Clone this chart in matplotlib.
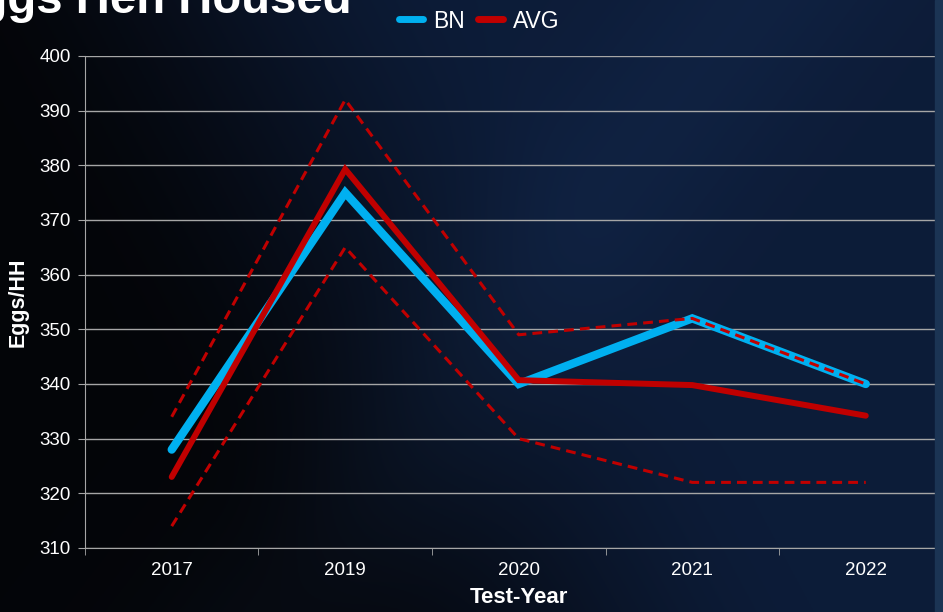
import matplotlib
matplotlib.use("Agg")
import matplotlib.pyplot as plt
import numpy as np

# data
years = ['2017', '2019', '2020', '2021', '2022']
bn = [328, 375, 340, 352, 340]
avg = [323, 379.3, 340.7, 339.8, 334.2]
upper = [334, 392, 349, 352, 340]
lower = [314, 365, 330, 322, 322]

blue = '#00b0f0'
red = '#c00000'
grid_col = '#a6a6a6'
plt.rcParams['font.family'] = ['Liberation Sans', 'DejaVu Sans']

fig = plt.figure(figsize=(9.43, 6.12), dpi=100)

# space-like background (plain gradient)
bg = fig.add_axes([0, 0, 1, 1], zorder=-10)
h, w = 306, 472
yy, xx = np.mgrid[0:h, 0:w]
xn = xx / (w - 1)
yn = yy / (h - 1)
t = np.clip((xn - 0.28 + 0.35 * (1 - yn)) / 0.6, 0, 1)
t = t * t * (3 - 2 * t)
dark = np.array([0.015, 0.02, 0.035])
navy = np.array([0.05, 0.11, 0.22])
img = dark + (navy - dark) * t[..., None]
# faint bright streak (milky way) through the middle
streak = np.exp(-((xn - 0.55) + 0.5 * (yn - 0.5)) ** 2 / 0.02) * 0.35
img = img + streak[..., None] * np.array([0.03, 0.06, 0.10])
bg.imshow(np.clip(img, 0, 1), aspect='auto', extent=[0, 1, 0, 1], origin='upper')
bg.set_axis_off()

ax = fig.add_axes([0.0901, 0.1046, 0.920, 0.8039])
ax.patch.set_alpha(0)
x = np.arange(len(years))

ax.plot(x, bn, color=blue, lw=6, solid_capstyle='round', solid_joinstyle='miter', zorder=3, label='BN')
ax.plot(x, avg, color=red, lw=4.3, solid_capstyle='round', solid_joinstyle='miter', zorder=4, label='AVG')
ax.plot(x, upper, color=red, lw=2.2, ls=(0, (3.2, 2)), zorder=5)
ax.plot(x, lower, color=red, lw=2.2, ls=(0, (3.2, 2)), zorder=5)

ax.set_ylim(310, 400)
ax.set_yticks(range(310, 401, 10))
ax.set_xlim(-0.5, len(years) - 0.5)
ax.set_xticks(x)
ax.set_xticklabels(years)
ax.set_xticks(np.arange(-0.5, len(years), 1), minor=True)
ax.yaxis.grid(True, color=grid_col, lw=1)
ax.set_axisbelow(True)
for s in ['top', 'right']:
    ax.spines[s].set_visible(False)
for s in ['left', 'bottom']:
    ax.spines[s].set_color(grid_col)
ax.tick_params(axis='x', which='major', length=0, pad=10, labelcolor='white', labelsize=13.5)
ax.tick_params(axis='x', which='minor', length=5, color=grid_col)
ax.tick_params(axis='y', length=5, color=grid_col, labelcolor='white', labelsize=13.5, pad=5)

ax.set_xlabel('Test-Year', color='white', fontsize=16, fontweight='bold', labelpad=6)
ax.set_ylabel('Eggs/HH', color='white', fontsize=15.5, fontweight='bold')
ax.yaxis.set_label_coords(-0.065, 0.5)

# lighter band on right edge
fig.patches.append(plt.Rectangle((935 / 943, 0), 1, 1, transform=fig.transFigure,
                                 color='#1b3454', zorder=20))

# title, cut off at the left edge
fig.text(352 / 943, 1 - 13 / 612, 'Eggs Hen Housed', ha='right', va='baseline',
         color='white', fontsize=34, fontweight='bold')

leg = fig.legend(loc='center', bbox_to_anchor=(479 / 943, 1 - 21 / 612), ncol=2, frameon=False,
                 fontsize=16.5, handlelength=1.05, handletextpad=0.45, columnspacing=0.6,
                 labelcolor='white')
for ln in leg.get_lines():
    ln.set_linewidth(5)
    ln.set_solid_capstyle('round')

fig.savefig('out.png', dpi=100)
